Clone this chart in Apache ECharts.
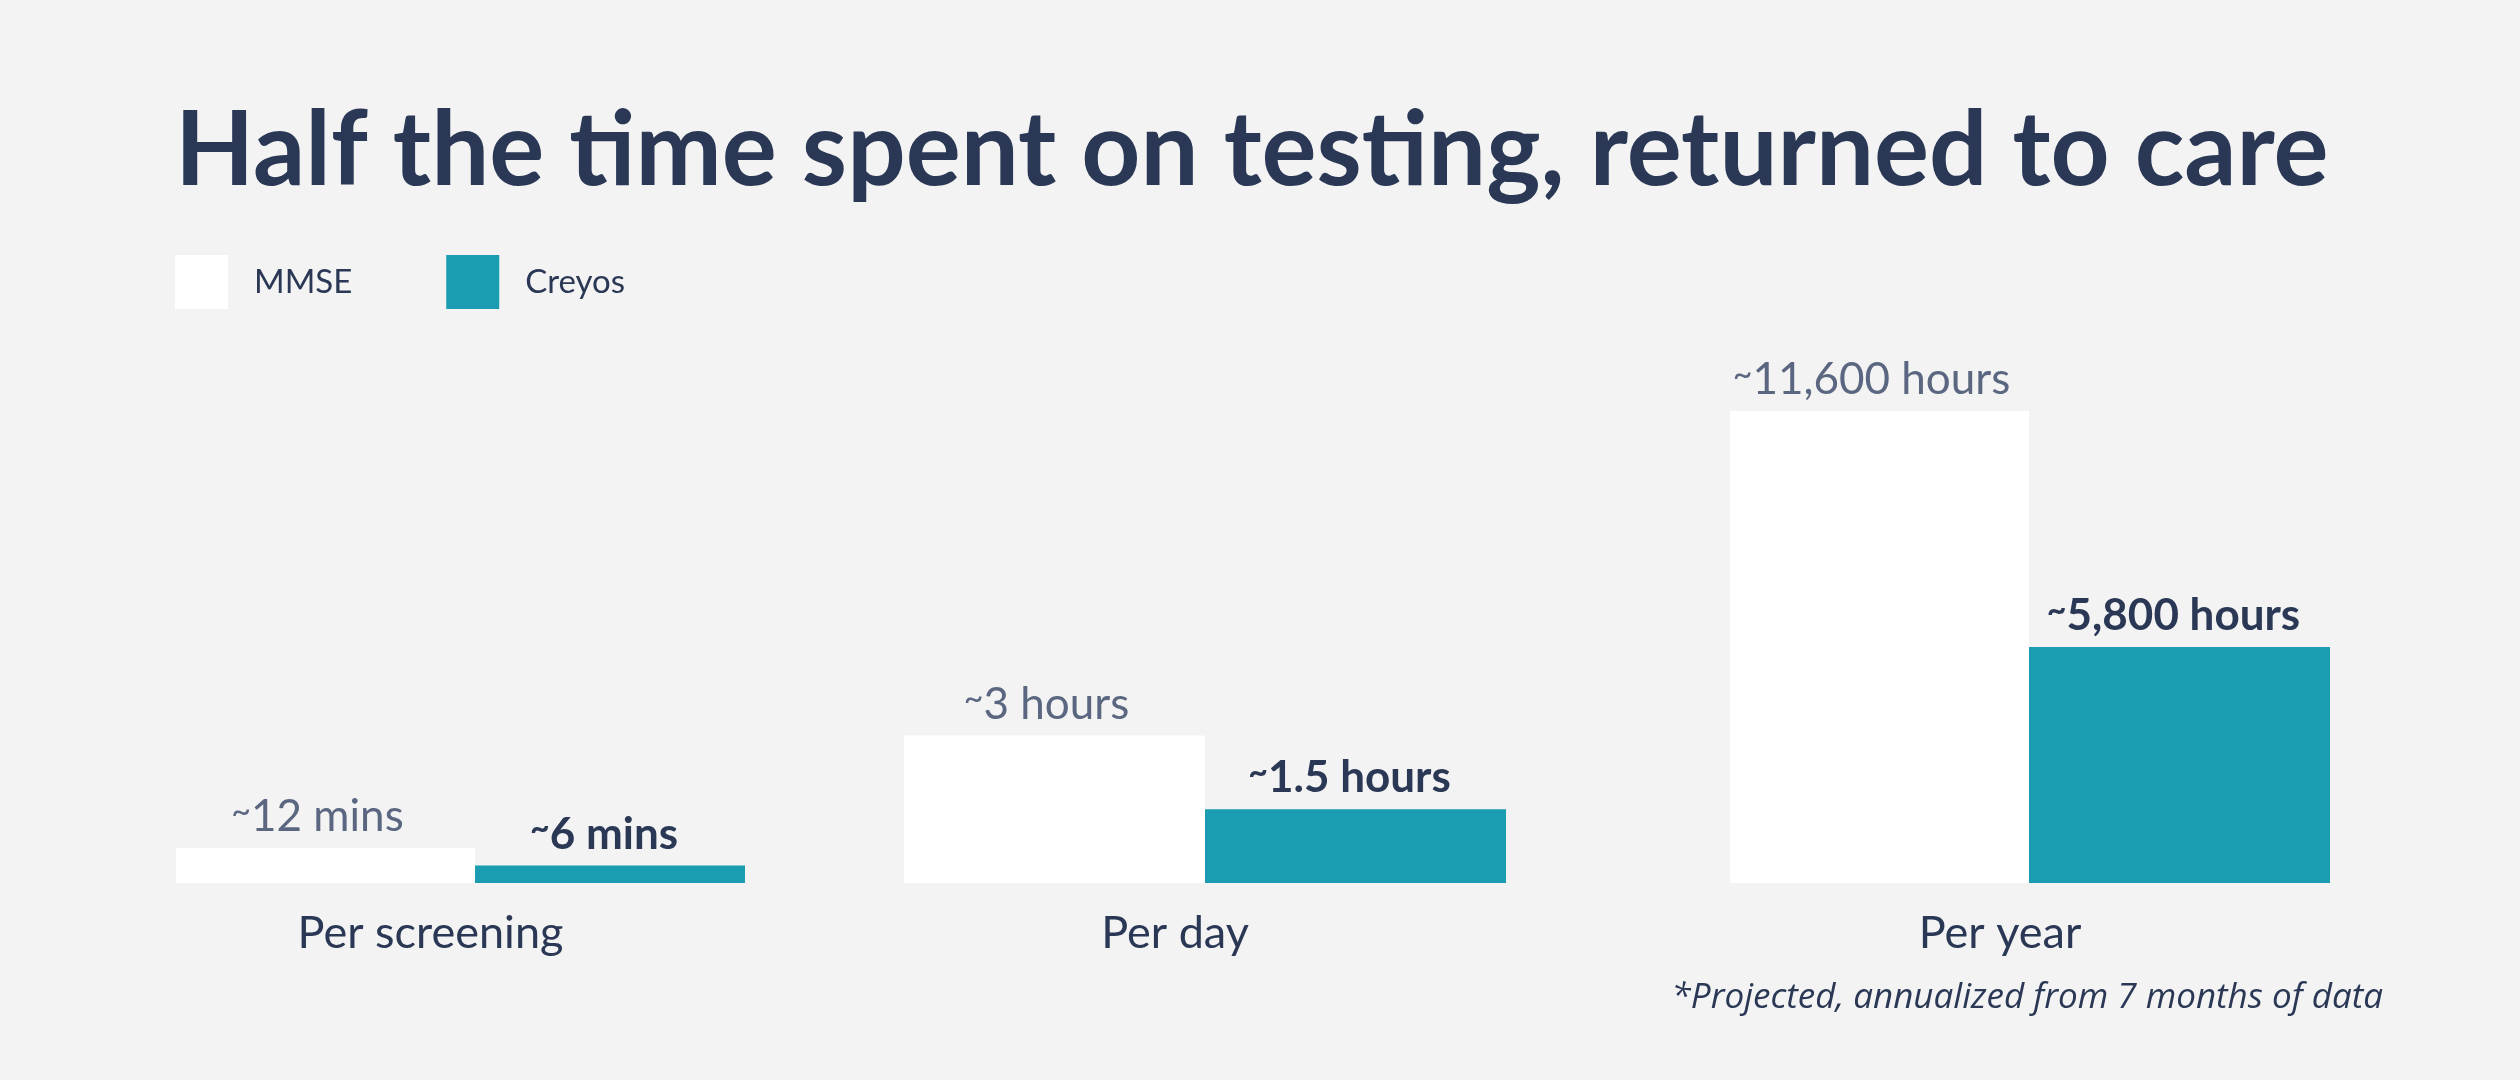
<!DOCTYPE html>
<html>
<head>
<meta charset="utf-8">
<script src="https://cdn.jsdelivr.net/npm/echarts@6/dist/echarts.min.js"></script>
<style>
  html, body { margin: 0; padding: 0; background: #f3f3f3; }
  #chart { width: 2520px; height: 1080px; }
</style>
</head>
<body>
<div id="chart"></div>
<script>
// data
var categories = ['Per screening', 'Per day', 'Per year'];
var mmseValues = [12, 3, 11600];
var creyosValues = [6, 1.5, 5800];
var units = ['mins', 'hours', 'hours'];
// each group has its own scale
var axisMax = [162, 9.6, 11600];

var NAVY = '#2a3855';
var GREY = '#5b6680';
var TEAL = '#1a9db1';
var FONT = 'Lato';

// group layout (left, width, bar widths)
var groups = [
    { left: 176, width: 569, bars: [299, 270] },
    { left: 904, width: 602, bars: [301, 301] },
    { left: 1730, width: 600, bars: [299, 301] }
];

function fmt(v, unit) {
    return '{t|~}' + v.toLocaleString('en-US') + ' ' + unit;
}

var tilde = { fontSize: 34, verticalAlign: 'top', lineHeight: 30 };

var grids = [], xAxes = [], yAxes = [], series = [];
for (var i = 0; i < categories.length; i++) {
    grids.push({ left: groups[i].left, width: groups[i].width, top: 411, bottom: 197 });
    xAxes.push({
        type: 'category',
        gridIndex: i,
        data: [categories[i]],
        axisLine: { show: false },
        axisTick: { show: false },
        axisLabel: {
            color: NAVY, fontFamily: FONT, fontSize: 45, margin: 28,
            padding: [0, 60, 0, 0]
        }
    });
    yAxes.push({ type: 'value', gridIndex: i, min: 0, max: axisMax[i], show: false });
    (function (u) {
        series.push({
            name: 'MMSE', type: 'bar', xAxisIndex: i, yAxisIndex: i,
            data: [mmseValues[i]], barWidth: groups[i].bars[0], barGap: '0%',
            itemStyle: { color: '#ffffff' },
            label: {
                show: true, position: 'top', distance: 9, offset: [-8, 0],
                color: GREY, fontFamily: FONT, fontSize: 44, lineHeight: 44,
                formatter: function (p) { return fmt(p.value, u); },
                rich: { t: Object.assign({ color: GREY, fontFamily: FONT }, tilde) }
            }
        });
        series.push({
            name: 'Creyos', type: 'bar', xAxisIndex: i, yAxisIndex: i,
            data: [creyosValues[i]], barWidth: groups[i].bars[1], barGap: '0%',
            itemStyle: { color: TEAL },
            label: {
                show: true, position: 'top', distance: 9, offset: [-6, 0],
                color: NAVY, fontFamily: FONT, fontSize: 44, lineHeight: 44, fontWeight: 'bold',
                formatter: function (p) { return fmt(p.value, u); },
                rich: { t: Object.assign({ color: NAVY, fontFamily: FONT, fontWeight: 'bold' }, tilde) }
            }
        });
    })(units[i]);
}

var myChart = echarts.init(document.getElementById('chart'));
var option = {
    backgroundColor: '#f3f3f3',
    animation: false,
    title: {
        text: 'Half the time spent on testing, returned to care',
        left: 175, top: 100, padding: 0,
        textStyle: { color: NAVY, fontFamily: FONT, fontSize: 103, fontWeight: 'bold' }
    },
    legend: {
        left: 175, top: 255, padding: 0,
        itemWidth: 53, itemHeight: 54, itemGap: 94,
        icon: 'rect',
        data: ['MMSE', 'Creyos'],
        textStyle: { color: NAVY, fontFamily: FONT, fontSize: 33, padding: [0, 0, 0, 21] }
    },
    grid: grids,
    xAxis: xAxes,
    yAxis: yAxes,
    series: series,
    graphic: [{
        type: 'text',
        right: 137, top: 981,
        style: {
            text: '*Projected, annualized from 7 months of data',
            fill: NAVY, fontFamily: 'Open Sans', fontSize: 35, fontStyle: 'italic'
        }
    }]
};
myChart.setOption(option);
</script>
</body>
</html>
